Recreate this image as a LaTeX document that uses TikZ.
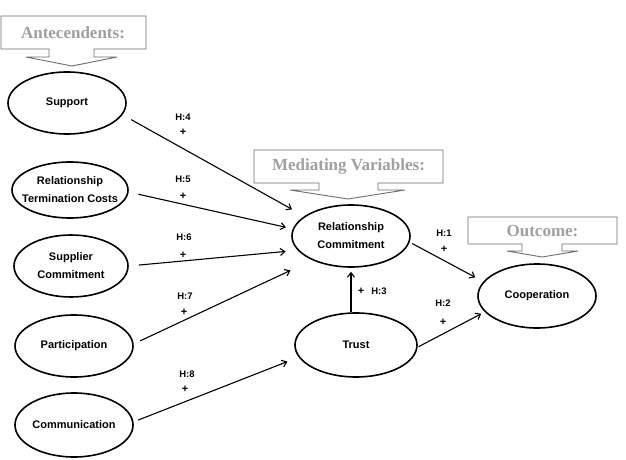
\documentclass[tikz,border=0pt]{standalone}
\usepackage{fontspec}
\setmainfont{Liberation Serif}
\newfontfamily\lsans{Liberation Sans}
\usetikzlibrary{arrows.meta,shapes.geometric}
\definecolor{calltext}{HTML}{A0A0A0}
\definecolor{callline}{HTML}{6E6E6E}
\begin{document}
\begin{tikzpicture}[x=1pt,y=-1pt,
  var/.style={ellipse,draw,line width=1.6pt,inner sep=0pt},
  txt/.style={font=\lsans\bfseries\fontsize{11}{18}\selectfont,align=center,inner sep=0pt},
  hyp/.style={font=\lsans\bfseries\fontsize{9.5}{11}\selectfont,inner sep=0pt},
  plus/.style={font=\lsans\bfseries\fontsize{11}{11}\selectfont,inner sep=0pt},
  arr/.style={-{Straight Barb[length=4.5pt,width=7pt]},line width=1.1pt},
  callout/.style={draw=callline,line width=0.9pt,fill=white},
  calltxt/.style={font=\bfseries\fontsize{17}{20}\selectfont,text=calltext,inner sep=0pt}]
\useasboundingbox (0,0) rectangle (626,460);
\fill[white] (0,0) rectangle (626,460);

% callouts
\draw[callout] (1,16) -- (146,16) -- (146,49) -- (94,49) -- (94,57) -- (117,57) -- (72,66)
  -- (26,57) -- (49,57) -- (49,49) -- (1,49) -- cycle;
\node[calltxt] (ant) at (73,32.5) {Antecendents:};

\draw[callout] (254,150) -- (443,150) -- (443,183) -- (378,183) -- (378,190) -- (405,190) -- (348,199)
  -- (290,190) -- (319,190) -- (319,183) -- (254,183) -- cycle;
\node[calltxt] (med) at (348.5,166.5) {Mediating Variables:};

\draw[callout] (468,217) -- (617,217) -- (617,244) -- (562,244) -- (562,251) -- (578,251) -- (542,257)
  -- (507,251) -- (522,251) -- (522,244) -- (468,244) -- cycle;
\node[calltxt] (out) at (542.5,230.5) {Outcome:};

% variables
\node[var,minimum width=118pt,minimum height=62pt,label={[txt]center:Support}] (sup) at (67,103) {};
\node[var,minimum width=116pt,minimum height=56pt,label={[txt]center:{Relationship\\Termination Costs}}] (rtc) at (70,190) {};
\node[var,minimum width=114pt,minimum height=62pt,label={[txt]center:{Supplier\\Commitment}}] (sc) at (71,266) {};
\node[var,minimum width=118pt,minimum height=62pt,label={[txt]center:Participation}] (part) at (74,346) {};
\node[var,minimum width=118pt,minimum height=64pt,label={[txt]center:Communication}] (comm) at (74,425) {};
\node[var,minimum width=118pt,minimum height=62pt,label={[txt]center:{Relationship\\Commitment}}] (rc) at (351,236) {};
\node[var,minimum width=122pt,minimum height=64pt,label={[txt]center:Trust}] (trust) at (356,345) {};
\node[var,minimum width=118pt,minimum height=64pt,label={[txt]center:Cooperation}] (coop) at (537,296) {};

% connectors
\draw[arr,shorten <=10pt,shorten >=14pt] (sup.-12) -- (rc.157);
\draw[arr,shorten <=10pt,shorten >=7pt] (rtc.-2.5) -- (rc.173);
\draw[arr,shorten <=10pt,shorten >=12pt] (sc.0) -- (rc.-165);
\draw[arr,shorten <=7pt,shorten >=24pt] (part.2.6) -- (rc.-148.6);
\draw[arr,shorten <=5pt,shorten >=12pt] (comm.3.6) -- (trust.-168.5);
\draw[arr,shorten <=3pt,shorten >=9pt] (rc.-6.5) -- (coop.165.5);
\draw[arr,shorten <=1pt,shorten >=4pt] (trust.-2.8) -- (coop.-163);
\draw[arr,shorten >=4pt] (trust.north -| rc.south) -- (rc.south);

% hypothesis labels
\node[hyp] (h4) at (183,117) {H:4};
\node[plus] (p4) at (183,132) {+};
\node[hyp] (h5) at (183,179) {H:5};
\node[plus] (p5) at (183,196) {+};
\node[hyp] (h6) at (184,237) {H:6};
\node[plus] (p6) at (183,255) {+};
\node[hyp] (h7) at (185,296) {H:7};
\node[plus] (p7) at (184,312) {+};
\node[hyp] (h8) at (187,374) {H:8};
\node[plus] (p8) at (185,389) {+};
\node[hyp] (h1) at (444,233) {H:1};
\node[plus] (p1) at (444,249) {+};
\node[hyp] (h2) at (443,303) {H:2};
\node[plus] (p2) at (443,322) {+};
\node[plus] (p3) at (361,291) {+};
\node[hyp] (h3) at (379,291) {H:3};
\end{tikzpicture}
\end{document}
